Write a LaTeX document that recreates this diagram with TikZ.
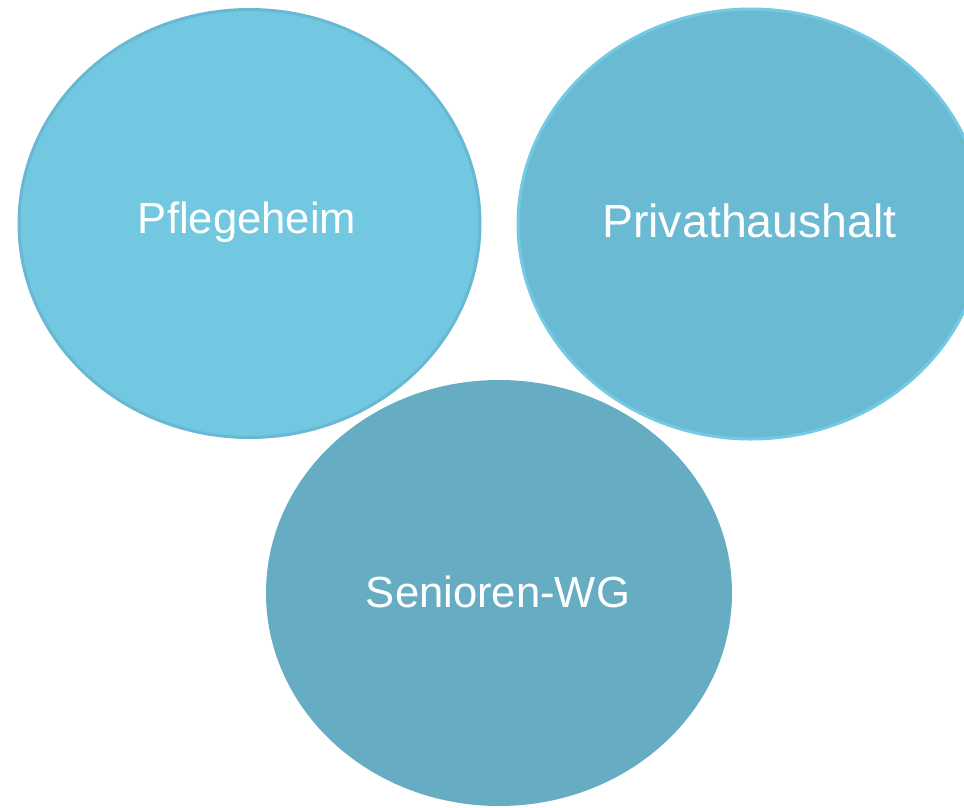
\documentclass[tikz,border=0pt]{standalone}
\usepackage{fontspec}
\setmainfont{Liberation Sans}
\usetikzlibrary{shapes.geometric}

\definecolor{heimblue}{HTML}{72C8E0}
\definecolor{heimedge}{HTML}{66B8D3}
\definecolor{privblue}{HTML}{6ABAD4}
\definecolor{privedge}{HTML}{74CAE2}
\definecolor{wgblue}{HTML}{66ADC3}

\tikzset{
  bubble/.style={ellipse, inner sep=0pt, minimum width=465pt, minimum height=432pt},
  label/.style={text=white, font=\fontsize{43.6}{52}\selectfont},
}

\begin{document}
\begin{tikzpicture}[x=1pt,y=1pt]
  \useasboundingbox (0,0) rectangle (964,-807);

  % the three forms of living
  \node[bubble, fill=heimblue, draw=heimedge, line width=3pt, minimum width=461pt, minimum height=428pt] (heim) at (249.5,-223.5) {};
  \node[bubble, fill=privblue, draw=privedge, line width=3pt, minimum width=466pt, minimum height=430pt] (priv) at (751,-224) {};
  \node[bubble, fill=wgblue, minimum width=466pt, minimum height=426pt] (wg) at (499,-593) {};

  % labels
  \node[label] (heimtext) at (247,-222) {Pflegeheim};
  \node[label, font=\fontsize{46.5}{55}\selectfont] (privtext) at (749.5,-221) {Privathaushalt};
  \node[label] (wgtext) at (498,-592) {Senioren-WG};
\end{tikzpicture}
\end{document}
